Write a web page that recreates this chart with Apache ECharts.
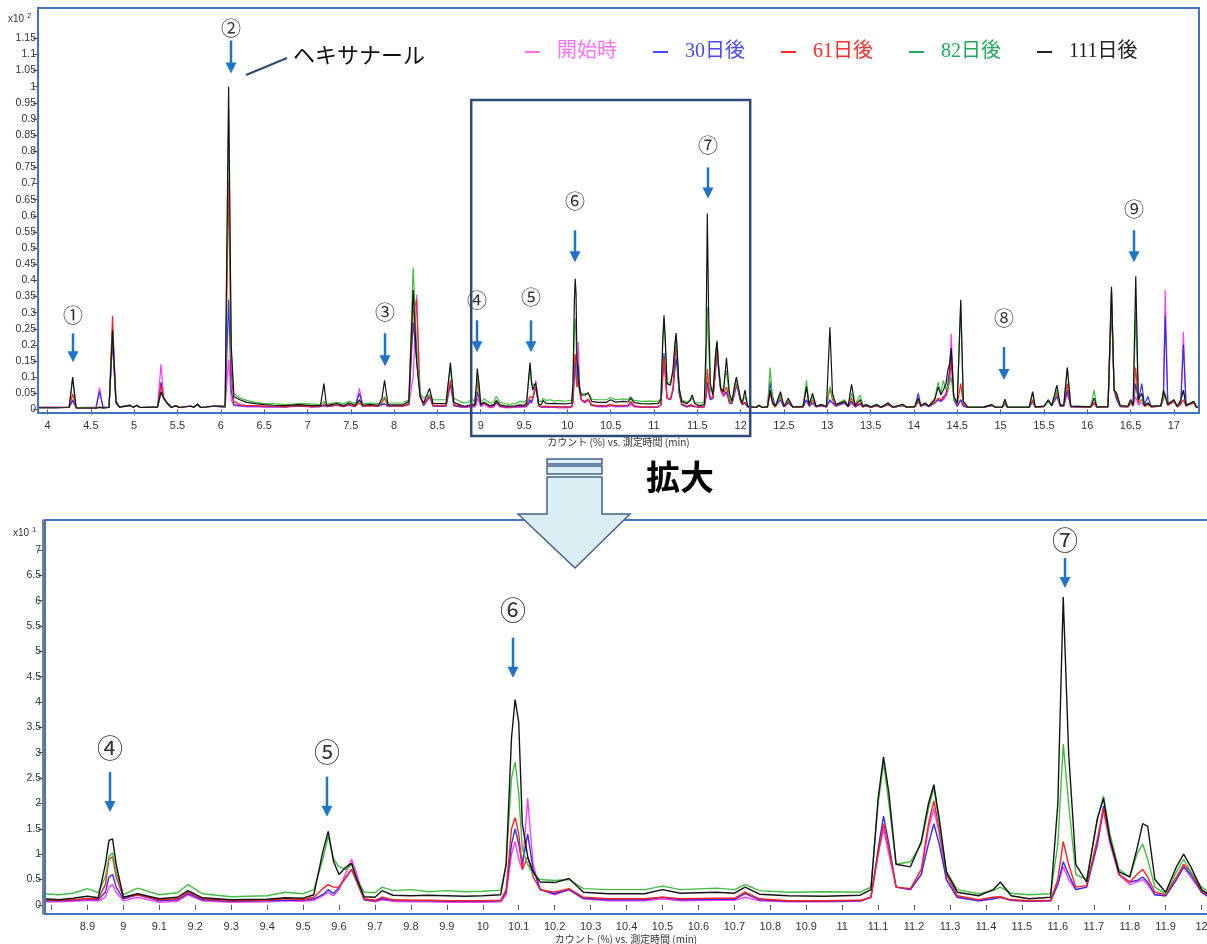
<!DOCTYPE html>
<html lang="ja">
<head>
<meta charset="utf-8">
<title>ヘキサナール クロマトグラム</title>
<script src="https://cdn.jsdelivr.net/npm/echarts@6.0.0/dist/echarts.min.js"></script>
<style>
  html, body { margin: 0; padding: 0; background: #fff; }
  #chart { width: 1207px; height: 944px; }
</style>
</head>
<body>
<div id="chart"></div>
<script>
// Retention time (min) and counts (%) for each storage stage
var retentionTime = [
  3.88, 4.10, 4.25, 4.29, 4.33, 4.56, 4.60, 4.64, 4.71, 4.75,
  4.79, 4.83, 4.95, 4.99, 5.03, 5.07, 5.27, 5.31, 5.34, 5.38,
  5.43, 5.48, 5.52, 5.65, 5.69, 5.73, 5.77, 5.92, 6.05, 6.09,
  6.12, 6.15, 6.22, 6.30, 6.40, 6.50, 6.60, 6.75, 6.90, 7.05,
  7.15, 7.19, 7.22, 7.34, 7.42, 7.48, 7.55, 7.60, 7.64, 7.72,
  7.82, 7.86, 7.89, 7.93, 8.10, 8.17, 8.22, 8.26, 8.30, 8.34,
  8.41, 8.45, 8.60, 8.65, 8.69, 8.78, 8.82, 8.86, 8.90, 8.93,
  8.95, 8.96, 8.97, 8.98, 9.00, 9.04, 9.10, 9.15, 9.18, 9.22,
  9.30, 9.40, 9.45, 9.50, 9.53, 9.555, 9.57, 9.585, 9.60, 9.62,
  9.635, 9.65, 9.67, 9.70, 9.72, 9.75, 9.80, 9.85, 9.90, 9.95,
  10.00, 10.05, 10.065, 10.08, 10.09, 10.10, 10.11, 10.125, 10.14, 10.16,
  10.20, 10.24, 10.28, 10.35, 10.45, 10.50, 10.55, 10.65, 10.70, 10.73,
  10.77, 10.85, 10.95, 11.05, 11.08, 11.10, 11.115, 11.13, 11.15, 11.19,
  11.22, 11.24, 11.255, 11.27, 11.29, 11.32, 11.38, 11.42, 11.44, 11.47,
  11.52, 11.58, 11.60, 11.615, 11.63, 11.65, 11.68, 11.71, 11.727, 11.745,
  11.77, 11.80, 11.82, 11.836, 11.85, 11.87, 11.90, 11.93, 11.95, 11.97,
  12.00, 12.02, 12.05, 12.08, 12.18, 12.21, 12.25, 12.31, 12.34, 12.37,
  12.40, 12.46, 12.50, 12.55, 12.60, 12.72, 12.76, 12.79, 12.83, 12.87,
  12.93, 12.99, 13.03, 13.06, 13.10, 13.20, 13.24, 13.28, 13.32, 13.38,
  13.41, 13.45, 13.50, 13.57, 13.62, 13.70, 13.76, 13.87, 13.92, 14.01,
  14.05, 14.08, 14.13, 14.17, 14.24, 14.28, 14.31, 14.34, 14.37, 14.39,
  14.41, 14.43, 14.46, 14.50, 14.54, 14.57, 14.62, 14.80, 14.90, 14.94,
  15.02, 15.05, 15.08, 15.33, 15.37, 15.40, 15.50, 15.55, 15.59, 15.65,
  15.69, 15.73, 15.77, 15.81, 16.04, 16.08, 16.11, 16.24, 16.28, 16.31,
  16.34, 16.38, 16.47, 16.50, 16.53, 16.56, 16.59, 16.63, 16.66, 16.70,
  16.74, 16.85, 16.88, 16.90, 16.93, 17.00, 17.04, 17.08, 17.11, 17.14,
  17.23, 17.26, 17.30
];

// 開始時
var countsStart = [
  0.8, 0.7, 0.8, 2.5, 0.6, 0.7, 6.8, 0.8, 0.6, 21,
  2.0, 0.7, 1.3, 0.7, 1.4, 0.6, 0.8, 14, 4, 2.0,
  0.7, 1.3, 0.6, 1.2, 0.7, 1.8, 0.6, 1.2, 0.8, 15.5,
  3, 1.2, 1.0, 0.8, 0.9, 0.7, 0.8, 0.8, 1.5, 0.8,
  0.9, 1.2, 0.9, 1.3, 0.9, 1.5, 0.9, 6.5, 1.0, 1.5,
  1.0, 1.6, 1.8, 1.0, 1.0, 1.5, 10, 35.5, 5, 1.2,
  4, 1.0, 1.0, 8, 1.2, 0.6, 0.6, 0.7, 0.9, 0.8,
  1.5, 3.5, 4.0, 2.5, 0.8, 1.5, 0.5, 0.7, 2.0, 0.8,
  0.5, 0.6, 0.8, 0.7, 0.9, 1.8, 2.5, 1.8, 3.0, 6.5,
  9.0, 6.0, 1.0, 0.6, 1.0, 0.7, 0.6, 0.6, 0.5, 0.5,
  0.5, 0.6, 2.0, 10.0, 12.5, 9.0, 7.0, 21.0, 8.0, 3.0,
  2.0, 3.0, 1.2, 0.8, 0.8, 1.2, 0.8, 0.9, 0.9, 1.5,
  0.8, 0.6, 0.6, 0.7, 1.5, 10.0, 15.0, 10.0, 3.5, 3.0,
  6.0, 15.0, 19.0, 14.0, 5.0, 1.5, 0.8, 1.2, 1.5, 0.9,
  0.7, 0.8, 4.0, 7.5, 5.0, 3.0, 3.5, 12.0, 18.5, 12.0,
  6.0, 4.0, 4.5, 5.0, 4.0, 2.0, 1.8, 5.0, 7.5, 5.5,
  2.5, 1.5, 2.0, 0.8, 0.6, 1.2, 0.6, 0.8, 9.0, 2.0,
  0.8, 3.0, 0.8, 2.0, 0.7, 0.8, 3.0, 1.0, 2.0, 0.8,
  1.2, 0.7, 2.5, 2.0, 1.0, 2.0, 0.8, 2.0, 0.8, 1.5,
  0.8, 1.2, 0.6, 1.2, 0.6, 1.5, 0.6, 1.2, 0.6, 0.8,
  2.5, 1.0, 1.5, 0.8, 2.0, 3.0, 2.5, 3.0, 4.0, 6.0,
  10.0, 23.5, 3.0, 1.0, 3.0, 1.0, 0.6, 0.6, 1.2, 0.6,
  0.6, 1.8, 0.6, 0.6, 2.5, 0.7, 0.9, 3.0, 1.2, 4.0,
  1.0, 1.0, 5.0, 0.8, 0.7, 2.0, 0.7, 0.8, 33.0, 6.0,
  3.0, 0.9, 0.8, 2.0, 1.0, 4.0, 1.5, 2.0, 1.0, 1.5,
  0.8, 1.0, 5.0, 37.0, 2.0, 2.5, 0.8, 2.0, 24.0, 1.5,
  2.0, 0.7, 0.6
];

// 30日後
var counts30 = [
  0.6, 0.6, 0.6, 3.0, 0.5, 0.6, 5.5, 0.7, 0.6, 22,
  2.0, 0.7, 1.2, 0.7, 1.3, 0.6, 0.8, 8.5, 3.5, 2.0,
  0.7, 1.2, 0.6, 1.0, 0.7, 1.6, 0.6, 1.0, 0.6, 34,
  6, 1.5, 1.2, 1.0, 1.0, 0.9, 0.8, 0.8, 1.0, 0.8,
  0.9, 1.2, 0.9, 1.3, 0.9, 1.3, 0.9, 5.0, 1.0, 1.2,
  1.0, 1.5, 1.8, 1.0, 1.0, 1.5, 27, 15, 4, 1.2,
  4, 1.0, 1.0, 8, 1.2, 0.8, 0.8, 0.9, 1.1, 1.0,
  2.5, 5.5, 6.0, 3.5, 1.2, 2.0, 0.8, 1.0, 2.2, 1.0,
  0.7, 0.8, 0.9, 0.9, 1.2, 2.0, 3.0, 2.2, 3.5, 5.5,
  7.0, 4.5, 1.0, 0.8, 1.2, 0.9, 0.8, 0.8, 0.7, 0.7,
  0.7, 0.8, 2.5, 12.0, 15.0, 12.0, 8.0, 14.0, 7.0, 3.0,
  2.2, 3.0, 1.3, 1.0, 1.0, 1.5, 1.0, 1.1, 1.1, 2.2,
  1.0, 0.7, 0.7, 0.8, 1.5, 11.0, 17.5, 12.0, 3.5, 3.0,
  6.0, 12.0, 16.0, 12.0, 5.0, 1.5, 0.8, 1.2, 1.5, 0.9,
  0.7, 0.8, 4.0, 8.5, 6.0, 3.0, 3.5, 12.0, 19.5, 13.0,
  6.0, 4.5, 4.8, 5.5, 4.5, 2.0, 1.8, 5.0, 7.5, 6.0,
  2.5, 1.5, 2.0, 0.8, 0.6, 1.2, 0.6, 0.8, 8.0, 4.0,
  1.0, 3.0, 0.8, 2.0, 0.7, 0.8, 3.0, 1.0, 2.0, 0.8,
  1.2, 0.8, 3.0, 2.0, 1.0, 2.0, 0.8, 2.5, 0.8, 1.8,
  0.8, 1.2, 0.6, 1.2, 0.6, 1.5, 0.6, 1.2, 0.6, 0.8,
  5.0, 1.0, 1.5, 0.8, 2.0, 3.0, 2.5, 3.5, 5.0, 8.0,
  12.0, 18.0, 3.0, 1.0, 3.0, 1.0, 0.6, 0.6, 1.2, 0.6,
  0.6, 1.8, 0.6, 0.6, 2.5, 0.7, 0.9, 2.5, 1.2, 4.0,
  1.0, 1.0, 6.0, 0.8, 0.7, 2.0, 0.7, 0.8, 33.0, 6.0,
  3.0, 0.9, 0.8, 2.0, 1.0, 8.0, 2.5, 8.0, 1.5, 4.0,
  0.8, 1.0, 5.0, 29.0, 2.0, 2.5, 0.8, 2.0, 20.0, 1.5,
  2.0, 0.7, 0.6
];

// 61日後
var counts61 = [
  0.6, 0.6, 0.6, 4.8, 0.5, 0.5, 0.8, 0.5, 0.6, 29,
  2.5, 0.8, 1.4, 0.7, 1.2, 0.6, 0.8, 7.5, 3.5, 1.8,
  0.7, 1.2, 0.6, 1.0, 0.7, 1.5, 0.6, 1.0, 0.8, 71,
  12, 2.5, 1.5, 1.2, 1.2, 1.0, 1.0, 0.8, 1.2, 0.9,
  1.0, 1.8, 1.0, 1.3, 1.0, 1.5, 1.0, 2.0, 1.0, 1.2,
  1.1, 2.0, 3.5, 1.1, 1.0, 1.8, 30, 34, 4, 1.5,
  4.5, 1.2, 1.2, 9, 1.5, 1.0, 0.9, 1.0, 1.2, 1.2,
  4.0, 9.0, 9.5, 5.5, 1.5, 2.0, 1.0, 1.2, 2.5, 1.2,
  0.8, 0.9, 1.2, 1.0, 1.5, 3.2, 4.0, 3.5, 3.5, 5.5,
  7.0, 4.5, 1.2, 0.9, 1.5, 1.0, 0.9, 0.9, 0.8, 0.8,
  0.8, 0.9, 3.0, 15.0, 17.2, 14.0, 7.0, 9.5, 5.5, 3.0,
  2.5, 3.2, 1.5, 1.2, 1.2, 1.5, 1.2, 1.3, 1.3, 2.5,
  1.2, 0.8, 0.8, 0.9, 1.5, 10.0, 16.0, 11.0, 3.5, 3.2,
  7.0, 16.0, 20.5, 15.0, 6.0, 1.8, 1.0, 1.5, 1.6, 1.0,
  0.8, 0.9, 5.0, 12.5, 8.0, 3.5, 3.8, 13.0, 19.0, 13.0,
  6.0, 4.5, 6.0, 7.0, 5.5, 2.5, 2.0, 5.5, 8.0, 6.5,
  2.8, 1.8, 2.2, 0.9, 0.6, 1.2, 0.6, 0.7, 5.0, 1.5,
  0.8, 4.0, 0.8, 2.5, 0.7, 0.8, 7.0, 1.2, 3.0, 0.8,
  1.4, 0.8, 7.0, 3.0, 1.2, 2.5, 0.9, 3.5, 1.0, 2.0,
  0.8, 1.2, 0.7, 1.2, 0.6, 1.6, 0.6, 1.3, 0.6, 0.8,
  2.5, 1.0, 1.8, 0.9, 2.2, 3.5, 3.0, 4.0, 4.5, 6.0,
  9.0, 15.0, 3.5, 1.5, 8.0, 1.5, 0.6, 0.6, 1.3, 0.6,
  0.6, 2.0, 0.6, 0.6, 3.0, 0.7, 0.9, 2.5, 1.2, 5.0,
  1.0, 1.2, 8.0, 0.9, 0.7, 2.0, 0.7, 0.8, 37.0, 6.0,
  4.0, 1.0, 0.8, 2.0, 1.2, 13.0, 2.0, 3.0, 1.0, 1.5,
  0.8, 1.0, 3.0, 5.0, 1.2, 2.5, 0.8, 1.5, 3.0, 1.0,
  2.0, 0.7, 0.6
];

// 82日後
var counts82 = [
  0.6, 0.6, 0.7, 9.5, 0.6, 0.5, 0.6, 0.5, 0.6, 24,
  2.5, 0.7, 1.3, 0.7, 1.2, 0.6, 0.8, 5, 3.5, 2.2,
  0.7, 1.2, 0.6, 1.0, 0.7, 1.5, 0.6, 1.0, 0.8, 93,
  18, 5, 3.5, 2.8, 2.2, 1.8, 1.8, 1.5, 1.8, 1.7,
  1.5, 2.5, 1.6, 2.2, 1.8, 2.5, 1.8, 2.5, 1.8, 2.0,
  1.8, 2.5, 4.0, 2.0, 2.0, 3.0, 44, 20, 5, 3.5,
  4.5, 3.0, 3.0, 13, 3.5, 2.2, 2.0, 2.3, 3.2, 2.4,
  5.5, 9.5, 10.3, 6.5, 2.0, 3.3, 2.0, 2.4, 4.0, 2.2,
  1.6, 1.8, 2.5, 2.2, 3.0, 9.0, 13.5, 9.0, 7.5, 7.0,
  8.0, 5.0, 2.5, 2.4, 3.5, 2.8, 3.0, 2.6, 2.8, 2.6,
  2.7, 2.9, 8.0, 25.0, 28.2, 22.0, 11.0, 8.0, 6.0, 5.0,
  4.8, 5.0, 3.2, 3.0, 3.0, 3.7, 3.0, 3.3, 3.0, 4.0,
  2.8, 2.5, 2.6, 2.5, 3.5, 20.0, 28.0, 20.0, 8.0, 8.5,
  12.0, 19.0, 23.0, 16.0, 6.5, 3.0, 2.2, 2.8, 3.5, 2.3,
  2.0, 2.2, 12.0, 31.7, 20.0, 6.0, 5.0, 17.0, 21.5, 14.0,
  7.0, 5.5, 10.0, 12.0, 9.0, 3.5, 2.2, 6.5, 9.0, 6.5,
  3.5, 2.5, 4.0, 1.2, 0.7, 1.3, 0.7, 1.0, 13.0, 2.5,
  1.0, 4.5, 1.0, 3.0, 0.8, 1.0, 9.0, 1.5, 4.0, 1.0,
  1.6, 0.9, 7.0, 4.0, 1.5, 3.0, 1.2, 5.0, 1.5, 4.5,
  1.2, 1.5, 0.8, 1.5, 0.8, 2.0, 0.7, 1.5, 0.7, 0.9,
  3.0, 1.2, 2.0, 1.0, 3.5, 8.5, 5.0, 9.0, 6.0, 7.0,
  8.0, 10.0, 3.0, 2.0, 33.0, 2.5, 0.7, 0.7, 1.5, 0.7,
  0.7, 2.5, 0.7, 0.7, 5.0, 0.8, 1.0, 2.5, 1.2, 6.0,
  1.2, 1.5, 13.0, 1.0, 0.8, 6.0, 0.8, 0.9, 36.0, 6.0,
  5.0, 1.2, 1.0, 3.0, 1.5, 30.0, 3.0, 3.0, 1.2, 2.0,
  1.0, 1.2, 4.0, 5.0, 1.5, 3.0, 1.0, 3.0, 6.0, 1.2,
  2.5, 0.8, 0.7
];

// 111日後
var counts111 = [
  0.5, 0.5, 0.6, 10.0, 0.5, 0.4, 0.6, 0.5, 0.6, 24.5,
  2.5, 0.7, 1.2, 0.7, 1.2, 0.6, 0.7, 5.5, 3.5, 2.0,
  0.6, 1.1, 0.6, 1.0, 0.7, 1.6, 0.6, 1.0, 1.0, 100,
  20, 4, 3.0, 2.2, 1.8, 1.5, 1.3, 1.2, 1.5, 1.2,
  1.2, 8.0, 1.2, 1.8, 1.2, 2.0, 1.3, 3.0, 1.3, 1.6,
  1.3, 3.5, 9.0, 1.4, 1.4, 2.5, 37, 15, 4, 2.0,
  6.5, 1.8, 1.8, 14.5, 2.2, 1.2, 1.0, 1.3, 1.7, 1.4,
  8.0, 12.7, 13.0, 8.0, 1.5, 2.2, 1.2, 1.5, 2.8, 1.4,
  1.0, 1.1, 1.4, 1.3, 2.0, 10.5, 14.5, 8.5, 6.0, 7.5,
  8.2, 5.0, 1.6, 1.5, 2.8, 1.9, 1.8, 1.9, 1.8, 1.7,
  1.8, 2.0, 8.0, 33.0, 40.5, 36.0, 16.0, 9.5, 6.5, 4.5,
  4.4, 5.2, 2.5, 2.2, 2.2, 3.0, 2.3, 2.5, 2.3, 3.5,
  2.1, 1.8, 1.7, 1.9, 3.0, 21.0, 29.2, 22.0, 8.0, 7.5,
  12.5, 20.0, 23.7, 17.0, 6.5, 2.5, 1.8, 3.0, 4.5, 1.8,
  1.2, 1.5, 20.0, 60.7, 30.0, 8.0, 4.5, 17.0, 21.0, 13.0,
  6.5, 5.5, 11.0, 16.0, 15.5, 5.0, 2.5, 7.5, 10.0, 7.5,
  3.0, 2.0, 6.0, 1.0, 0.6, 1.3, 0.6, 0.8, 6.0, 2.0,
  1.0, 5.5, 0.9, 3.5, 0.8, 0.9, 7.0, 1.5, 5.0, 1.0,
  1.5, 0.9, 25.5, 5.0, 1.5, 2.5, 1.0, 7.8, 1.2, 3.0,
  1.0, 1.5, 0.8, 1.5, 0.7, 2.0, 0.7, 1.6, 0.7, 0.9,
  3.5, 1.2, 2.0, 1.0, 3.0, 7.0, 4.5, 6.0, 8.0, 12.0,
  14.0, 19.0, 4.0, 2.0, 34.0, 2.5, 0.7, 0.7, 1.5, 0.7,
  0.7, 3.2, 0.7, 0.7, 5.5, 0.8, 1.0, 3.0, 1.2, 7.5,
  1.2, 1.5, 13.0, 1.0, 0.8, 3.5, 0.8, 0.9, 38.0, 6.0,
  5.0, 1.2, 1.0, 3.0, 1.5, 41.3, 3.0, 5.0, 1.2, 2.0,
  1.0, 1.2, 6.0, 4.0, 1.5, 3.0, 1.0, 3.0, 6.0, 1.2,
  2.5, 0.8, 0.7
];

var seriesNames = ['開始時', '30日後', '61日後', '82日後', '111日後'];

// tick values
var topXTicks = [4, 4.5, 5, 5.5, 6, 6.5, 7, 7.5, 8, 8.5, 9, 9.5, 10, 10.5, 11, 11.5,
  12, 12.5, 13, 13.5, 14, 14.5, 15, 15.5, 16, 16.5, 17];
var topYTicks = [0, 0.05, 0.1, 0.15, 0.2, 0.25, 0.3, 0.35, 0.4, 0.45, 0.5, 0.55, 0.6,
  0.65, 0.7, 0.75, 0.8, 0.85, 0.9, 0.95, 1, 1.05, 1.1, 1.15];
var zoomXTicks = [8.8, 8.9, 9, 9.1, 9.2, 9.3, 9.4, 9.5, 9.6, 9.7, 9.8, 9.9, 10, 10.1, 10.2,
  10.3, 10.4, 10.5, 10.6, 10.7, 10.8, 10.9, 11, 11.1, 11.2, 11.3, 11.4, 11.5, 11.6, 11.7,
  11.8, 11.9, 12];
var zoomXLabels = zoomXTicks.slice(1);
var zoomYTicks = [0, 0.5, 1, 1.5, 2, 2.5, 3, 3.5, 4, 4.5, 5, 5.5, 6, 6.5, 7];

// peak markers: label, time, arrow tip value (axis units)
var topPeaks = [
  { label: '①', t: 4.29, tip: 0.146, len: 29, gap: 47 },
  { label: '②', t: 6.12, tip: 1.041, len: 33, gap: 45 },
  { label: '③', t: 7.89, tip: 0.134, len: 33, gap: 54 },
  { label: '④', t: 8.96, tip: 0.177, len: 32, gap: 52 },
  { label: '⑤', t: 9.58, tip: 0.177, len: 32, gap: 55 },
  { label: '⑥', t: 10.09, tip: 0.456, len: 32, gap: 61 },
  { label: '⑦', t: 11.62, tip: 0.654, len: 31, gap: 53 },
  { label: '⑧', t: 15.04, tip: 0.091, len: 33, gap: 62 },
  { label: '⑨', t: 16.54, tip: 0.456, len: 32, gap: 53 }
];
var zoomPeaks = [
  { label: '④', t: 8.963, tip: 1.83, len: 40, gap: 64 },
  { label: '⑤', t: 9.566, tip: 1.74, len: 40, gap: 65 },
  { label: '⑥', t: 10.084, tip: 4.48, len: 40, gap: 68 },
  { label: '⑦', t: 11.62, tip: 6.25, len: 30, gap: 48 }
];

(function() {
  var lineColors = ['#ff3cff', '#3030ee', '#ff2020', '#3fbf3f', '#141414'];
  var legendColors = ['#ff70ff', '#4848ff', '#ff2a2a', '#22aa5a', '#222222'];
  var ink = '#333333';
  var frameBlue = '#4472c4';
  var navy = '#2e4a78';
  var arrowBlue = '#1f74c4';
  var fontSans = '"Liberation Sans", Arial, sans-serif';
  var fontJp = '"Noto Sans CJK JP", sans-serif';
  var axisTitle = 'カウント (%) vs. 測定時間 (min)';

  var topGrid = { left: 38, top: 8, width: 1161, height: 405, outerBoundsMode: 'none' };
  var zoomGrid = { left: 45, top: 520, width: 1162, height: 394, outerBoundsMode: 'none' };

  var allCounts = [countsStart, counts30, counts61, counts82, counts111];
  allCounts.forEach(function(a, i) {
    if (a.length !== retentionTime.length) console.error('length mismatch', i, a.length);
  });

  function toPoints(vals, scale, lo, hi) {
    var out = [];
    for (var i = 0; i < retentionTime.length; i++) {
      var t = retentionTime[i];
      if (t >= lo && t <= hi) out.push([t, vals[i] / scale]);
    }
    return out;
  }

  function numLabel(v) { return String(+(+v).toFixed(3)); }

  var series = [];
  allCounts.forEach(function(vals, i) {
    series.push({
      name: seriesNames[i], type: 'line', xAxisIndex: 0, yAxisIndex: 0,
      data: toPoints(vals, 100, 0, 99), symbol: 'none', silent: true,
      lineStyle: { width: 1.2, color: lineColors[i] },
      itemStyle: { color: lineColors[i] }
    });
  });
  allCounts.forEach(function(vals, i) {
    series.push({
      name: seriesNames[i], type: 'line', xAxisIndex: 1, yAxisIndex: 1,
      data: toPoints(vals, 10, 8.6, 12.1), symbol: 'none', silent: true,
      lineStyle: { width: 1.4, color: lineColors[i] },
      itemStyle: { color: lineColors[i] }
    });
  });

  function xAxis(grid, min, max, ticks, labels, gap) {
    return {
      gridIndex: grid, type: 'value', min: min, max: max,
      axisLine: { show: false },
      axisTick: { show: true, customValues: ticks, length: 5, lineStyle: { color: '#555' } },
      axisLabel: { customValues: labels, color: ink, fontSize: 11, fontFamily: fontSans,
        margin: 7, formatter: numLabel },
      splitLine: { show: false },
      name: axisTitle, nameLocation: 'middle', nameGap: gap,
      nameTextStyle: { color: ink, fontSize: 10, fontFamily: fontJp }
    };
  }

  function yAxis(grid, min, max, ticks, showLine) {
    return {
      gridIndex: grid, type: 'value', min: min, max: max,
      offset: showLine ? 2 : 0,
      axisLine: { show: showLine, lineStyle: { color: '#555', width: 1.5 } },
      axisTick: { show: true, customValues: ticks, length: 5, lineStyle: { color: '#555' } },
      axisLabel: { customValues: ticks, color: ink, fontSize: 10.5, fontFamily: fontSans,
        margin: 2, formatter: numLabel },
      splitLine: { show: false }
    };
  }

  var chart = echarts.init(document.getElementById('chart'));
  chart.setOption({
    animation: false,
    backgroundColor: '#fff',
    grid: [topGrid, zoomGrid],
    legend: {
      left: 520, top: 37, icon: 'rect', itemWidth: 15, itemHeight: 2, itemGap: 36,
      selectedMode: false,
      textStyle: { fontSize: 20, fontFamily: '"Liberation Serif", "Noto Sans CJK JP", serif',
        padding: [0, 0, 0, 12] },
      data: seriesNames.map(function(n, i) {
        return { name: n, itemStyle: { color: legendColors[i] },
          textStyle: { color: legendColors[i] } };
      })
    },
    xAxis: [
      xAxis(0, 3.89, 17.29, topXTicks, topXTicks, 24),
      xAxis(1, 8.782, 12.015, zoomXTicks, zoomXLabels, 20)
    ],
    yAxis: [
      yAxis(0, -0.011, 1.244, topYTicks, false),
      yAxis(1, -0.18, 7.59, zoomYTicks, true)
    ],
    series: series
  });

  function toPx(g, t, v) {
    return chart.convertToPixel({ xAxisIndex: g, yAxisIndex: g }, [t, v]);
  }

  var shapes = [];
  function frame(g, extraRight) {
    shapes.push({ type: 'rect', z: 100,
      shape: { x: g.left, y: g.top, width: g.width + extraRight, height: g.height },
      style: { fill: 'none', stroke: frameBlue, lineWidth: 2 } });
  }
  frame(topGrid, 0);
  frame(zoomGrid, 20);

  function marker(g, m, fontSize) {
    var p = toPx(g, m.t, m.tip);
    var x = Math.round(p[0]), y = p[1];
    shapes.push({ type: 'line', z: 110, shape: { x1: x, y1: y - m.len, x2: x, y2: y - 9 },
      style: { stroke: arrowBlue, lineWidth: 2.5 } });
    shapes.push({ type: 'polygon', z: 110,
      shape: { points: [[x - 5.5, y - 11], [x + 5.5, y - 11], [x, y]] },
      style: { fill: arrowBlue } });
    shapes.push({ type: 'text', z: 110, x: x, y: y - m.gap,
      style: { text: m.label, fill: ink, fontSize: fontSize, fontFamily: fontJp,
        align: 'center', verticalAlign: 'middle' } });
  }
  topPeaks.forEach(function(m) { marker(0, m, 20); });
  zoomPeaks.forEach(function(m) { marker(1, m, 26); });

  // zoom region box on the overview
  var x1 = toPx(0, 8.89, 0)[0], x2 = toPx(0, 12.11, 0)[0];
  shapes.push({ type: 'rect', z: 105, shape: { x: x1, y: 100, width: x2 - x1, height: 336 },
    style: { fill: 'none', stroke: navy, lineWidth: 2.5 } });

  // hexanal label
  shapes.push({ type: 'line', z: 110, shape: { x1: 246, y1: 75, x2: 287, y2: 58 },
    style: { stroke: navy, lineWidth: 2 } });
  shapes.push({ type: 'text', z: 110, x: 293, y: 55,
    style: { text: 'ヘキサナール', fill: '#111', fontSize: 22, fontFamily: fontJp,
      verticalAlign: 'middle' } });

  // y unit labels
  shapes.push({ type: 'text', z: 110, x: 8, y: 19,
    style: { text: 'x10', fill: ink, fontSize: 10, fontFamily: fontSans, verticalAlign: 'middle' } });
  shapes.push({ type: 'text', z: 110, x: 27, y: 16,
    style: { text: '2', fill: ink, fontSize: 8, fontFamily: fontSans, verticalAlign: 'middle' } });
  shapes.push({ type: 'text', z: 110, x: 13, y: 533,
    style: { text: 'x10', fill: ink, fontSize: 10, fontFamily: fontSans, verticalAlign: 'middle' } });
  shapes.push({ type: 'text', z: 110, x: 32, y: 530,
    style: { text: '1', fill: ink, fontSize: 8, fontFamily: fontSans, verticalAlign: 'middle' } });

  // enlarge arrow
  var arrowFill = '#dbeef4', arrowEdge = '#41628e';
  shapes.push({ type: 'rect', z: 120, shape: { x: 547, y: 459, width: 55, height: 5 },
    style: { fill: arrowFill, stroke: arrowEdge, lineWidth: 1.5 } });
  shapes.push({ type: 'rect', z: 120, shape: { x: 547, y: 466, width: 55, height: 8 },
    style: { fill: arrowFill, stroke: arrowEdge, lineWidth: 1.5 } });
  shapes.push({ type: 'polygon', z: 120,
    shape: { points: [[547, 477], [602, 477], [602, 514], [630, 514], [575, 568], [518, 514], [547, 514]] },
    style: { fill: arrowFill, stroke: arrowEdge, lineWidth: 1.5 } });
  shapes.push({ type: 'text', z: 120, x: 646, y: 477,
    style: { text: '拡大', fill: '#000', fontSize: 34, fontFamily: fontJp, fontWeight: 'bold',
      verticalAlign: 'middle' } });

  chart.setOption({ graphic: { elements: shapes } });
  window.addEventListener('resize', function() { chart.resize(); });
})();
</script>
</body>
</html>
